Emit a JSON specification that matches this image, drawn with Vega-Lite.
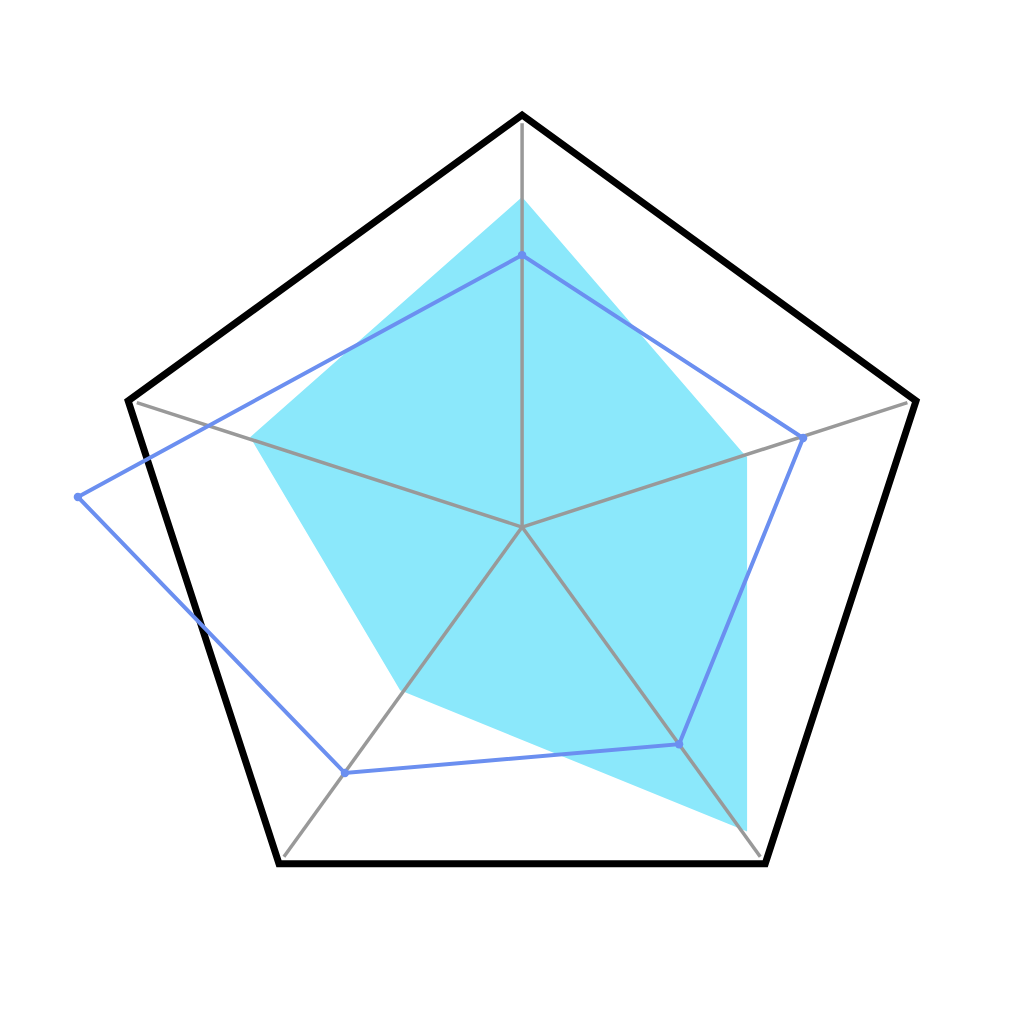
{
  "$schema": "https://vega.github.io/schema/vega-lite/v6.json",
  "width": 1024,
  "height": 1024,
  "autosize": {"type": "fit", "contains": "padding"},
  "padding": 0,
  "background": "white",
  "config": {"view": {"stroke": null}},
  "datasets": {
    "outline": [
      {"i": 0, "x": 0, "y": 1},
      {"i": 1, "x": 0.956, "y": 0.306},
      {"i": 2, "x": 0.590, "y": -0.817},
      {"i": 3, "x": -0.590, "y": -0.817},
      {"i": 4, "x": -0.956, "y": 0.306}
    ],
    "spokes": [
      {"x": 0, "y": 0, "x2": 0, "y2": 0.98},
      {"x": 0, "y": 0, "x2": 0.935, "y2": 0.302},
      {"x": 0, "y": 0, "x2": 0.578, "y2": -0.80},
      {"x": 0, "y": 0, "x2": -0.578, "y2": -0.80},
      {"x": 0, "y": 0, "x2": -0.935, "y2": 0.302}
    ],
    "cyan": [
      {"i": 0, "x": 0, "y": 0.801},
      {"i": 1, "x": 0.534, "y": 0.182},
      {"i": 2, "x": 0.546, "y": 0.17},
      {"i": 3, "x": 0.546, "y": -0.739},
      {"i": 4, "x": -0.296, "y": -0.396},
      {"i": 5, "x": -0.66, "y": 0.218}
    ],
    "blue": [
      {"i": 0, "x": 0, "y": 0.66},
      {"i": 1, "x": 0.682, "y": 0.216},
      {"i": 2, "x": 0.381, "y": -0.527},
      {"i": 3, "x": -0.43, "y": -0.597},
      {"i": 4, "x": -1.078, "y": 0.073}
    ]
  },
  "encoding": {
    "x": {"field": "x", "type": "quantitative", "axis": null, "scale": {"domain": [-1.267, 1.218], "nice": false, "zero": false}},
    "y": {"field": "y", "type": "quantitative", "axis": null, "scale": {"domain": [-1.206, 1.279], "nice": false, "zero": false}}
  },
  "layer": [
    {
      "data": {"name": "cyan"},
      "mark": {"type": "line", "interpolate": "linear-closed", "fill": "#8be8fb", "stroke": "#8be8fb", "strokeWidth": 0},
      "encoding": {"order": {"field": "i"}}
    },
    {
      "data": {"name": "spokes"},
      "mark": {"type": "rule", "color": "#999999", "strokeWidth": 3.5},
      "encoding": {"x2": {"field": "x2"}, "y2": {"field": "y2"}}
    },
    {
      "data": {"name": "outline"},
      "mark": {"type": "line", "interpolate": "linear-closed", "color": "black", "strokeWidth": 7, "strokeJoin": "miter"},
      "encoding": {"order": {"field": "i"}}
    },
    {
      "data": {"name": "blue"},
      "mark": {"type": "line", "interpolate": "linear-closed", "color": "#6b8ff0", "strokeWidth": 4, "point": {"size": 70, "color": "#6b8ff0"}},
      "encoding": {"order": {"field": "i"}}
    }
  ]
}
